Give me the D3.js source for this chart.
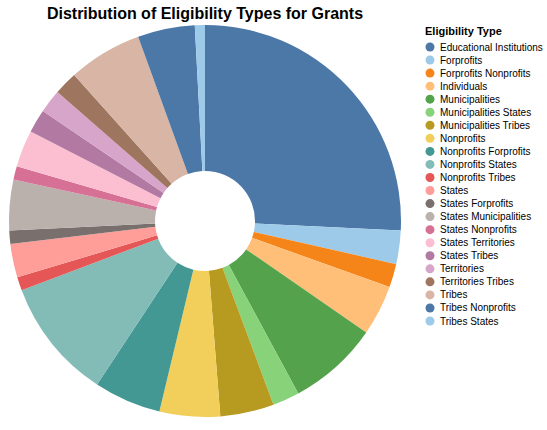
<!DOCTYPE html>
<html><head><meta charset="utf-8">
<script src="https://cdn.jsdelivr.net/npm/d3@7"></script>
<style>body{margin:0;background:#fff;font-family:"Helvetica Neue",Helvetica,Arial,"Liberation Sans",sans-serif;}</style>
</head><body><div id="chart"></div>
<script>
// Eligibility categories and estimated grant counts
const categories = ['Educational Institutions', 'Forprofits', 'Forprofits Nonprofits', 'Individuals',
  'Municipalities', 'Municipalities States', 'Municipalities Tribes', 'Nonprofits',
  'Nonprofits Forprofits', 'Nonprofits States', 'Nonprofits Tribes', 'States', 'States Forprofits',
  'States Municipalities', 'States Nonprofits', 'States Territories', 'States Tribes', 'Territories',
  'Territories Tribes', 'Tribes', 'Tribes Nonprofits', 'Tribes States'];
const counts = [93, 10, 7, 15, 27, 8, 16, 18, 20, 36, 4, 10, 4, 15, 4, 11, 7, 7, 7, 22, 17, 3];
const palette = ['#4c78a8', '#9ecae9', '#f58518', '#ffbf79', '#54a24b', '#88d27a', '#b79a20', '#f2cf5b',
  '#439894', '#83bcb6', '#e45756', '#ff9d98', '#79706e', '#bab0ac', '#d67195', '#fcbfd2',
  '#b279a2', '#d6a5c9', '#9e765f', '#d8b5a5'];

const data = categories.map((c, i) => ({ category: c, count: counts[i] }));

const svg = d3.select('#chart').append('svg').attr('width', 547).attr('height', 430);
const color = d3.scaleOrdinal().domain(categories).range(palette);

const cx = 205, cy = 221, outer = 196, inner = 50;

svg.append('text')
  .attr('x', cx).attr('y', 19)
  .attr('text-anchor', 'middle')
  .attr('font-size', 16).attr('font-weight', 'bold')
  .text('Distribution of Eligibility Types for Grants');

const pie = d3.pie().value(d => d.count).sort(null);
const arc = d3.arc().innerRadius(inner).outerRadius(outer);

svg.append('g')
  .attr('transform', `translate(${cx},${cy})`)
  .selectAll('path')
  .data(pie(data))
  .join('path')
  .attr('d', arc)
  .attr('fill', d => color(d.data.category));

// Legend
const legend = svg.append('g').attr('transform', 'translate(425,0)');
legend.append('text')
  .attr('x', 0).attr('y', 35)
  .attr('font-size', 11).attr('font-weight', 'bold')
  .text('Eligibility Type');

const y = d3.scalePoint().domain(categories).range([47, 321]);
const items = legend.selectAll('g.item').data(categories).join('g')
  .attr('class', 'item')
  .attr('transform', d => `translate(0,${y(d)})`);
items.append('circle').attr('cx', 5).attr('cy', 0).attr('r', 4.5).attr('fill', d => color(d));
items.append('text').attr('x', 15).attr('y', 3.5).attr('font-size', 10).text(d => d);
</script></body></html>
